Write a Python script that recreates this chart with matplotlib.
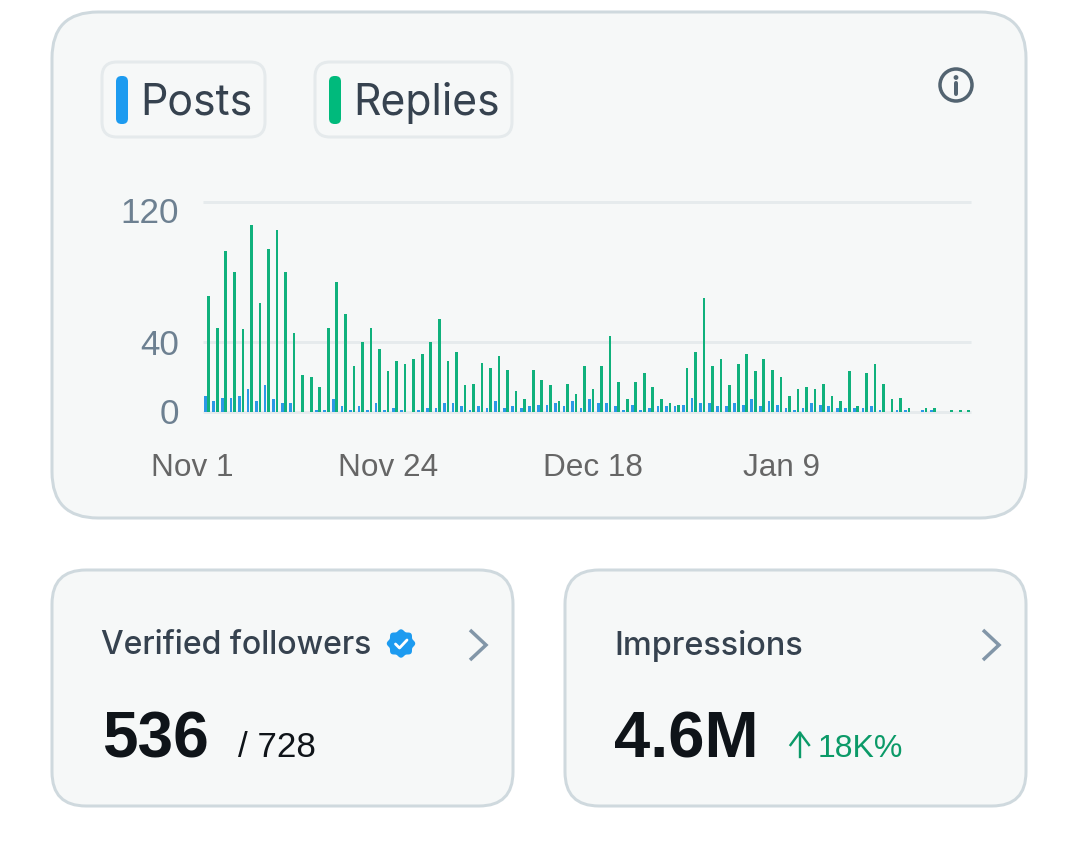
import matplotlib

matplotlib.use("Agg")

import matplotlib.pyplot as plt
import matplotlib.transforms as mtransforms
import numpy as np
from matplotlib.patches import Circle, FancyBboxPatch, Polygon

# values, one per day
replies = [66, 48, 92, 80, 47, 107, 62, 93, 104, 80, 45, 21, 20, 14, 48, 74, 56, 26, 40, 48,
           36, 23, 29, 27, 30, 33, 40, 53, 29, 34, 15, 16, 28, 25, 32, 24, 12, 7, 24, 18,
           15, 6, 16, 10, 26, 13, 26, 43, 17, 7, 17, 22, 14, 7, 5, 4, 25, 34, 65, 26,
           30, 15, 27, 33, 23, 30, 24, 20, 9, 13, 14, 13, 16, 9, 6, 23, 3, 22, 27, 16,
           7, 8, 2, 0, 2, 2, 0, 1, 1, 1]
posts = [9, 6, 8, 8, 9, 13, 6, 15, 7, 5, 5, 0, 0, 1, 1, 7, 3, 1, 3, 1,
         5, 1, 2, 1, 0, 1, 2, 2, 5, 5, 3, 1, 3, 2, 6, 2, 3, 2, 3, 4,
         4, 5, 3, 6, 2, 7, 5, 5, 3, 1, 4, 1, 2, 3, 3, 3, 4, 8, 5, 5,
         3, 3, 5, 4, 7, 3, 6, 4, 2, 1, 2, 5, 4, 3, 2, 2, 2, 2, 3, 1,
         0, 1, 1, 0, 1, 1, 0, 0, 0, 0]
date_ticks = [0, 23, 47, 69]
date_labels = ["Nov 1", "Nov 24", "Dec 18", "Jan 9"]
y_ticks = [0, 40, 120]

W, H = 1079, 856
BLUE = "#1d9bf0"
GREEN = "#00ba7c"
CARD_BG = "#f6f8f8"
CARD_EDGE = "#cfd9de"
CHIP_EDGE = "#e5eaec"
DARK = "#36424f"
INK = "#0f1419"
UP = "#0b9a68"
FONT = "Inter"
HELV = "Liberation Sans"


def pt(px):
    return px * 0.72


def rounded(ax, x0, y0, x1, y1, r, fc, ec=None, lw=0, z=1):
    ax.add_patch(FancyBboxPatch((x0 + r, y0 + r), x1 - x0 - 2 * r, y1 - y0 - 2 * r,
                                boxstyle=f"round,pad={r},rounding_size={r}",
                                fc=fc, ec=ec or "none", lw=pt(lw), zorder=z))


fig = plt.figure(figsize=(W / 100, H / 100), dpi=100, facecolor="white")
bg = fig.add_axes([0, 0, 1, 1])
bg.set_xlim(0, W)
bg.set_ylim(H, 0)
bg.axis("off")

# cards
rounded(bg, 52, 12, 1026, 518, 46, CARD_BG, CARD_EDGE, 3)
rounded(bg, 52, 570, 513, 806, 34, CARD_BG, CARD_EDGE, 3)
rounded(bg, 565, 570, 1026, 806, 34, CARD_BG, CARD_EDGE, 3)

# legend chips
rounded(bg, 102, 62, 265, 137, 15, CARD_BG, CHIP_EDGE, 3)
rounded(bg, 315, 62, 512, 137, 15, CARD_BG, CHIP_EDGE, 3)
rounded(bg, 116, 76, 128, 124, 5.5, BLUE, z=2)
rounded(bg, 329, 76, 341, 124, 5.5, GREEN, z=2)
bg.text(140, 98, "Posts", family=FONT, fontsize=pt(43), color=DARK, va="center_baseline")
bg.text(353, 98, "Replies", family=FONT, fontsize=pt(42.7), color=DARK, va="center_baseline")

# info icon
bg.add_patch(Circle((956, 85), 16, fc="none", ec="#536471", lw=pt(3.5), zorder=2))
bg.add_patch(Circle((956, 77.5), 2.4, fc="#536471", ec="none", zorder=2))
bg.plot([956, 956], [83, 94], color="#536471", lw=pt(4), solid_capstyle="round", zorder=2)

# bottom cards
bg.text(101, 642, "Verified followers", family=FONT, fontsize=pt(32), color=DARK,
        weight="medium", va="center_baseline")
bg.text(614, 642, "Impressions", family=FONT, fontsize=pt(32.5), color=DARK,
        weight="medium", va="center_baseline")
bg.text(102, 757, "536", family=HELV, fontsize=pt(64), color=INK, weight="bold")
bg.text(238, 757, "/ 728", family=HELV, fontsize=pt(35), color=INK)
bg.text(614, 757, "4.6M", family=HELV, fontsize=pt(65), color=INK, weight="bold")
bg.text(818, 757, "18K%", family=HELV, fontsize=pt(32), color=UP)

# up arrow next to the impressions change
bg.plot([799.7, 799.7], [732.5, 756.5], color=UP, lw=pt(2.4), zorder=2)
bg.plot([790.5, 799.7, 809], [745, 732.5, 745], color=UP, lw=pt(2.4), zorder=2)

# chevrons
for cx in (470, 983):
    bg.plot([cx, cx + 16, cx], [630, 645, 660], color="#8296a8", lw=pt(3.5),
            solid_joinstyle="miter", solid_capstyle="butt", zorder=2)

# verified badge
t = np.linspace(0, 2 * np.pi, 241)
r = 13.2 + 1.0 * np.cos(8 * t)
bg.add_patch(Polygon(np.c_[401 + r * np.cos(t), 643.5 + r * np.sin(t)], fc=BLUE, ec="none", zorder=2))
bg.plot([395.5, 399.5, 407], [644, 648, 640], color="white", lw=pt(2.8), zorder=3,
        solid_capstyle="round", solid_joinstyle="round")

# bar chart
ax = fig.add_axes([203 / W, 1 - 411.5 / H, (971 - 203) / W, 209.5 / H])
ax.patch.set_alpha(0)
days = np.arange(len(replies))
ax.bar(days - 0.2, posts, width=0.32, color="#2b98e6", zorder=3)
ax.bar(days + 0.2, replies, width=0.31, color="#10b17c", zorder=3)
ax.set_xlim(-0.47, 89.46)
ax.set_ylim(0, 120)
ax.set_yticks(y_ticks)
ax.set_xticks(date_ticks, date_labels)
ax.grid(True, axis="y", color="#e6ebed", lw=pt(3), zorder=1, clip_on=False, solid_capstyle="butt")
ax.grid(False, axis="x")
for side in ax.spines.values():
    side.set_visible(False)
ax.tick_params(length=0)
ax.tick_params(axis="y", labelsize=pt(35), labelcolor="#6d8091", pad=pt(24))
ax.tick_params(axis="x", labelsize=pt(31.5), labelcolor="#666666", pad=pt(41))
shift = mtransforms.ScaledTranslation(-15 / 100, 0, fig.dpi_scale_trans)
for lab in ax.get_xticklabels():
    lab.set_family(HELV)
    lab.set_transform(lab.get_transform() + shift)
for lab in ax.get_yticklabels():
    lab.set_family(HELV)
# the top label sits below its gridline in the original
top_shift = mtransforms.ScaledTranslation(0, -8 / 100, fig.dpi_scale_trans)
top_lab = ax.get_yticklabels()[-1]
top_lab.set_transform(top_lab.get_transform() + top_shift)

fig.savefig("out.png", dpi=100)
plt.close(fig)
